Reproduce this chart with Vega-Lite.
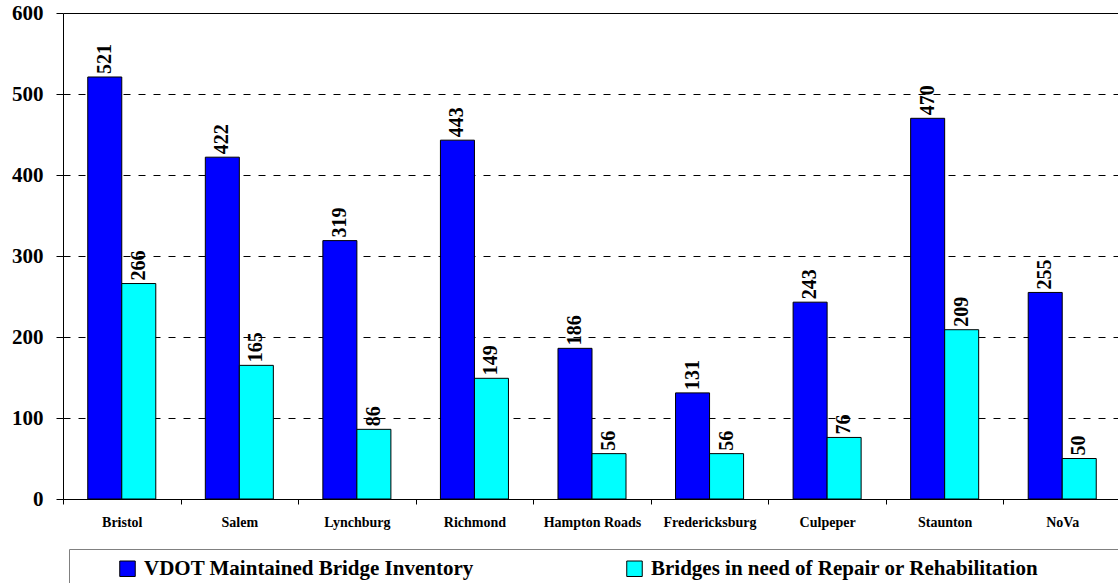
{
  "$schema": "https://vega.github.io/schema/vega-lite/v6.json",
  "width": 1058,
  "height": 486,
  "autosize": {"type": "none"},
  "padding": {"left": 63, "top": 13, "right": 0, "bottom": 90},
  "config": {"view": {"stroke": null}, "font": "Liberation Serif"},
  "data": {
    "values": [
      {"district": "Bristol", "series": "VDOT Maintained Bridge Inventory", "value": 521},
      {"district": "Bristol", "series": "Bridges in need of Repair or Rehabilitation", "value": 266},
      {"district": "Salem", "series": "VDOT Maintained Bridge Inventory", "value": 422},
      {"district": "Salem", "series": "Bridges in need of Repair or Rehabilitation", "value": 165},
      {"district": "Lynchburg", "series": "VDOT Maintained Bridge Inventory", "value": 319},
      {"district": "Lynchburg", "series": "Bridges in need of Repair or Rehabilitation", "value": 86},
      {"district": "Richmond", "series": "VDOT Maintained Bridge Inventory", "value": 443},
      {"district": "Richmond", "series": "Bridges in need of Repair or Rehabilitation", "value": 149},
      {"district": "Hampton Roads", "series": "VDOT Maintained Bridge Inventory", "value": 186},
      {"district": "Hampton Roads", "series": "Bridges in need of Repair or Rehabilitation", "value": 56},
      {"district": "Fredericksburg", "series": "VDOT Maintained Bridge Inventory", "value": 131},
      {"district": "Fredericksburg", "series": "Bridges in need of Repair or Rehabilitation", "value": 56},
      {"district": "Culpeper", "series": "VDOT Maintained Bridge Inventory", "value": 243},
      {"district": "Culpeper", "series": "Bridges in need of Repair or Rehabilitation", "value": 76},
      {"district": "Staunton", "series": "VDOT Maintained Bridge Inventory", "value": 470},
      {"district": "Staunton", "series": "Bridges in need of Repair or Rehabilitation", "value": 209},
      {"district": "NoVa", "series": "VDOT Maintained Bridge Inventory", "value": 255},
      {"district": "NoVa", "series": "Bridges in need of Repair or Rehabilitation", "value": 50}
    ]
  },
  "encoding": {
    "x": {
      "field": "district", "type": "nominal", "sort": null, "title": null,
      "scale": {"paddingInner": 0, "paddingOuter": 0},
      "axis": {
        "tickBand": "extent", "tickSize": 5, "labelPadding": 11, "labelAngle": 0,
        "labelFont": "Liberation Serif", "labelFontSize": 14, "labelFontWeight": "bold",
        "labelColor": "black", "domainColor": "black", "tickColor": "black", "grid": false
      }
    },
    "xOffset": {
      "field": "series", "type": "nominal",
      "scale": {"domain": ["VDOT Maintained Bridge Inventory", "Bridges in need of Repair or Rehabilitation"], "paddingInner": 0, "paddingOuter": 0.728}
    },
    "y": {
      "field": "value", "type": "quantitative", "title": null,
      "scale": {"domain": [0, 600], "nice": false},
      "axis": {
        "values": [0, 100, 200, 300, 400, 500, 600], "tickSize": 7, "labelPadding": 13,
        "labelFont": "Liberation Serif", "labelFontSize": 21, "labelFontWeight": "bold",
        "labelColor": "black", "domainColor": "black", "tickColor": "black",
        "grid": true, "gridColor": "black", "gridOpacity": 1,
        "gridDash": {"condition": {"test": "datum.value == 600", "value": []}, "value": [7, 8]}
      }
    }
  },
  "layer": [
    {
      "mark": {"type": "bar", "stroke": "black", "strokeWidth": 1},
      "encoding": {
        "color": {
          "field": "series", "type": "nominal",
          "scale": {"domain": ["VDOT Maintained Bridge Inventory", "Bridges in need of Repair or Rehabilitation"], "range": ["#0000FF", "#00FFFF"]},
          "legend": {
            "orient": "none", "legendX": 6, "legendY": 536, "direction": "horizontal",
            "title": " ", "titleOrient": "left", "titlePadding": 39, "titleFontSize": 21,
            "padding": 9, "strokeColor": "#808080",
            "symbolType": "square", "symbolSize": 240, "symbolStrokeColor": "black", "symbolStrokeWidth": 1, "symbolOpacity": 1,
            "labelFont": "Liberation Serif", "labelFontSize": 21, "labelFontWeight": "bold", "labelColor": "black",
            "labelOffset": 6, "columnPadding": 150, "labelLimit": 1000,
            "labelExpr": "datum.index == 1 ? datum.label + '\u2800\u2800\u2800\u2800\u2800\u2800' : datum.label"
          }
        }
      }
    },
    {
      "mark": {"type": "text", "angle": 270, "align": "left", "baseline": "middle", "dx": 3, "font": "Liberation Serif", "fontWeight": "bold", "fontSize": 20, "color": "black"},
      "encoding": {
        "text": {"field": "value", "type": "quantitative"}
      }
    }
  ]
}
